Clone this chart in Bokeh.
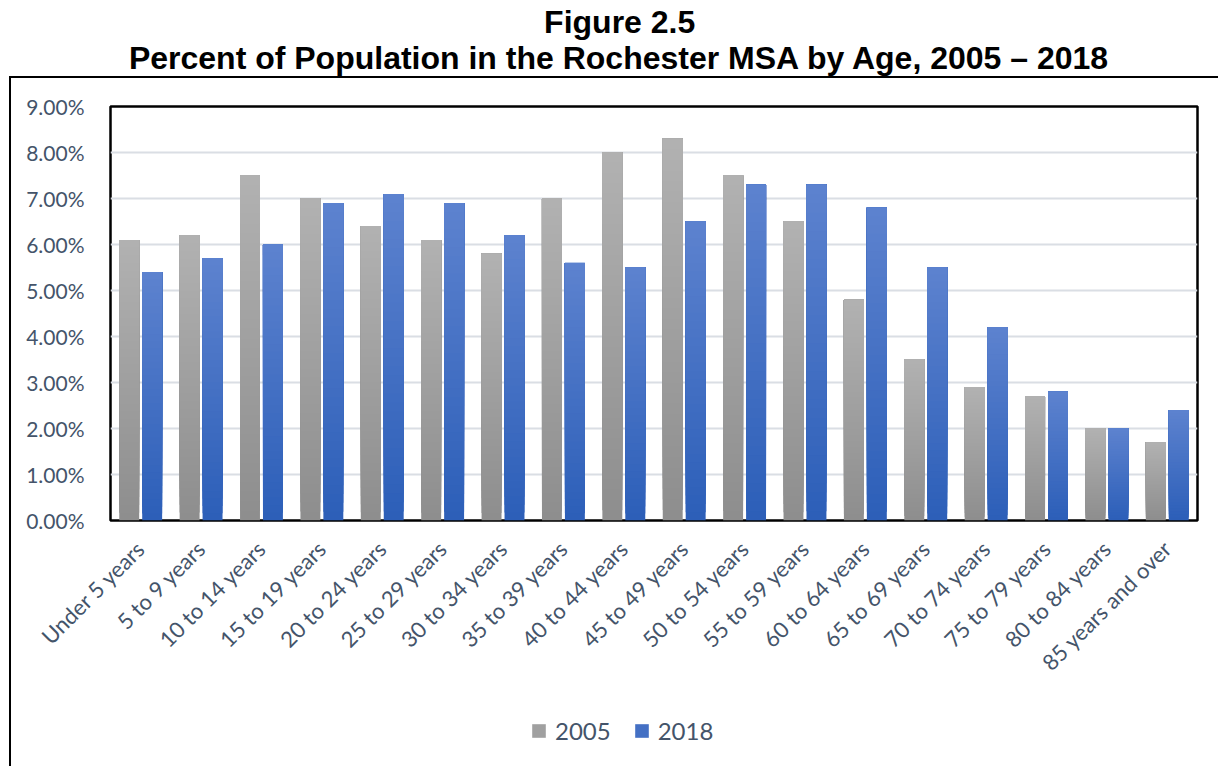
import numpy as np
from bokeh.plotting import figure
from bokeh.models import (ColumnDataSource, Range1d, FactorRange, PrintfTickFormatter,
                          FixedTicker, Legend, LegendItem)
from bokeh.transform import dodge
from bokeh.layouts import column
from bokeh.core.properties import value
from bokeh.embed import file_html
from bokeh.resources import INLINE

# ---------------- data ----------------
categories = ["Under 5 years", "5 to 9 years", "10 to 14 years", "15 to 19 years",
              "20 to 24 years", "25 to 29 years", "30 to 34 years", "35 to 39 years",
              "40 to 44 years", "45 to 49 years", "50 to 54 years", "55 to 59 years",
              "60 to 64 years", "65 to 69 years", "70 to 74 years", "75 to 79 years",
              "80 to 84 years", "85 years and over"]
pct_2005 = [6.1, 6.2, 7.5, 7.0, 6.4, 6.1, 5.8, 7.0, 8.0, 8.3, 7.5, 6.5, 4.8, 3.5, 2.9, 2.7, 2.0, 1.7]
pct_2018 = [5.4, 5.7, 6.0, 6.9, 7.1, 6.9, 6.2, 5.6, 5.5, 6.5, 7.3, 7.3, 6.8, 5.5, 4.2, 2.8, 2.0, 2.4]
series_names = ["2005", "2018"]
y_ticks = [0, 1, 2, 3, 4, 5, 6, 7, 8, 9]
title_lines = ["Figure 2.5", "Percent of Population in the Rochester MSA by Age, 2005 \u2013 2018"]

# ---------------- style ----------------
TICK_FONT = "Lato"
TICK_COLOR = "#44546a"
GRAY_TOP, GRAY_BOT = (177, 177, 177), (142, 142, 142)
BLUE_TOP, BLUE_BOT = (93, 131, 207), (44, 94, 184)
N_SLICES = 36
BAR_W = 0.33
OFFSET = 0.19


def hexcol(c):
    return "#%02x%02x%02x" % tuple(int(round(v)) for v in c)


def gradient_source(vals, top_c, bot_c):
    # every layer runs from its own start up to the bar's value; later (lighter)
    # layers are painted over earlier ones, giving a seamless vertical gradient
    xs, bottoms, tops, cols = [], [], [], []
    for i in range(N_SLICES):
        f = (i + 0.5) / N_SLICES
        c = hexcol([b + (t - b) * f for b, t in zip(bot_c, top_c)])
        for cat, v in zip(categories, vals):
            xs.append(cat)
            bottoms.append(v * i / N_SLICES)
            tops.append(v)
            cols.append(c)
    return ColumnDataSource(dict(cat=xs, bottom=bottoms, top=tops, color=cols))


def bare(fig):
    fig.grid.visible = False
    fig.outline_line_color = None
    return fig


# ---------------- title figure ----------------
tf = bare(figure(width=1220, height=76, x_range=Range1d(0, 1220), y_range=Range1d(76, 0),
                 x_axis_type=None, y_axis_type=None, title=None,
                 output_backend="svg", toolbar_location=None, min_border=0))
tf.text(x=[578, 578], y=[21, 57], text=title_lines, text_font=value("Liberation Sans"),
        text_font_style="bold", text_font_size="32px", text_align="center",
        text_baseline="alphabetic", text_color="black")

# ---------------- main chart ----------------
p = figure(width=1209, height=610,
           x_range=FactorRange(factors=categories, range_padding=0, factor_padding=0),
           y_range=Range1d(0, 9), output_backend="svg", toolbar_location=None,
           min_border_left=99, min_border_right=23, min_border_top=28, min_border_bottom=165)
p.margin = (0, 0, 0, 9)
p.styles = {"border-left": "2px solid black", "border-top": "2px solid black"}

for vals, off, tc, bc in [(pct_2005, -OFFSET, GRAY_TOP, GRAY_BOT),
                          (pct_2018, OFFSET, BLUE_TOP, BLUE_BOT)]:
    src = gradient_source(vals, tc, bc)
    p.vbar(x=dodge("cat", off, range=p.x_range), bottom="bottom", top="top", width=BAR_W,
           fill_color="color", line_color=None, source=src)

p.xaxis.major_label_orientation = np.pi / 4
p.xaxis.axis_line_color = None
p.xaxis.major_tick_line_color = None
p.xaxis.minor_tick_line_color = None
p.xaxis.major_label_text_font = TICK_FONT
p.xaxis.major_label_text_font_size = "22px"
p.xaxis.major_label_text_color = TICK_COLOR
p.xaxis.major_label_standoff = 18

p.yaxis.ticker = FixedTicker(ticks=y_ticks)
p.yaxis.formatter = PrintfTickFormatter(format="%.2f%%")
p.yaxis.axis_line_color = None
p.yaxis.major_tick_line_color = None
p.yaxis.minor_tick_line_color = None
p.yaxis.major_label_text_font = TICK_FONT
p.yaxis.major_label_text_font_size = "21px"
p.yaxis.major_label_text_color = TICK_COLOR
p.yaxis.major_label_standoff = 20

p.xgrid.grid_line_color = None
p.ygrid.grid_line_color = "#dadee4"
p.ygrid.grid_line_width = 2
p.outline_line_color = "black"
p.outline_line_width = 2.5

# ---------------- legend strip ----------------
lf = bare(figure(width=1209, height=80, x_range=Range1d(0, 1), y_range=Range1d(0, 1),
                 x_axis_type=None, y_axis_type=None, title=None,
                 output_backend="svg", toolbar_location=None, min_border=0))
lf.margin = (0, 0, 0, 9)
lf.styles = {"border-left": "2px solid black"}
mid05 = hexcol([(a + b) / 2 for a, b in zip(GRAY_TOP, GRAY_BOT)])
mid18 = hexcol([(a + b) / 2 for a, b in zip(BLUE_TOP, BLUE_BOT)])
# zero-height proxies: they only supply the legend swatches
r05 = lf.vbar(x=[0.5], bottom=[0], top=[0], width=0, fill_color=mid05, line_color=None)
r18 = lf.vbar(x=[0.5], bottom=[0], top=[0], width=0, fill_color=mid18, line_color=None)
legend = Legend(items=[LegendItem(label=series_names[0], renderers=[r05]),
                       LegendItem(label=series_names[1], renderers=[r18])],
                location=(420, 21), orientation="horizontal",
                glyph_width=17, glyph_height=17, label_standoff=8, spacing=22,
                padding=0, margin=0, border_line_color=None, background_fill_alpha=0,
                label_text_font=TICK_FONT, label_text_font_size="24px",
                label_text_color=TICK_COLOR)
lf.add_layout(legend, "center")

layout = column(tf, p, lf, spacing=0)
open("out.html", "w").write(file_html(layout, INLINE))
